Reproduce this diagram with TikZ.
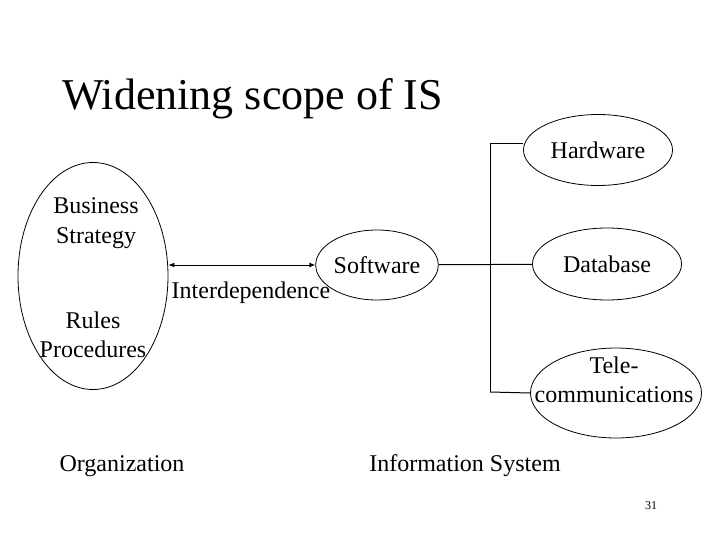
\documentclass[tikz,border=0pt]{standalone}
\usepackage{fontspec}
\setmainfont{Liberation Serif}
\usepackage{tikz}
\usetikzlibrary{arrows.meta}
\usetikzlibrary{shapes.geometric,positioning}

\newcommand{\slidetitle}{\fontsize{44}{50}\selectfont}
\newcommand{\slidetext}{\fontsize{24}{29.5}\selectfont}
\newcommand{\slidenum}{\fontsize{12}{14}\selectfont}

\begin{document}
\begin{tikzpicture}[x=1pt,y=-1pt]
  \tikzset{blob/.style = {shape=ellipse,draw,line width=0.8pt,inner sep=0pt,font=\slidetext}}
  \tikzset{txt/.style = {font=\slidetext,align=center,inner sep=0pt}}
  \tikzset{link/.style = {line width=1pt}}
  \tikzset{%
  tipL/.tip={Latex[length=6pt,width=5pt]},
}
  \useasboundingbox (0,0) rectangle (720,540);

	\node[font=\slidetitle,anchor=base west,inner sep=0pt] (T) at (62,110) {Widening scope of IS};

	% organization side
	\node[blob,minimum width=150,minimum height=227] (O) at (93,276) {};
	\node[txt] (BS) at (96,223) {Business\\Strategy};
	\node[txt] (RP) at (93,335) {Rules\\Procedures};
	\node[txt] (ON) at (122,466) {Organization};

	% information system side
	\node[blob,minimum width=102,minimum height=70] (SW) at (377,265) {Software};
	\node[blob,minimum width=149,minimum height=71] (HW) at (598,150) {Hardware};
	\node[blob,minimum width=149,minimum height=72] (DB) at (607,264) {Database};
	\node[blob,minimum width=171,minimum height=90] (TC) at (616,393) {};
	\node[txt] (TT) at (614,380) {Tele-\\communications};
	\node[txt] (IS) at (465,466) {Information System};

	\node[txt] (ID) at (251,293) {Interdependence};
	\node[font=\slidenum,inner sep=0pt] (N) at (651,506) {31};

	\coordinate (B1) at (490,144);
	\coordinate (B2) at (490,392);

	\draw[link,tipL-tipL] (SW.west) -- (SW.west -| O.east);

    \foreach \from/\to in {SW/DB, B1/B2}
    \draw[link] (\from) -- (\to);

	\draw[link] (B1) -- (B1 -| HW.west);
	\draw[link] (B2) -- (TC.west);

\end{tikzpicture}
\end{document}
